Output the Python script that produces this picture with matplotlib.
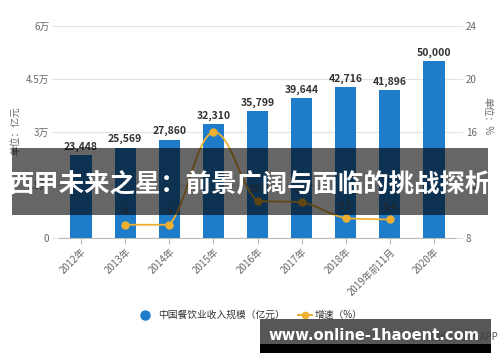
import matplotlib
matplotlib.use('Agg')
import matplotlib.pyplot as plt
from matplotlib.path import Path
from matplotlib.patches import PathPatch, Rectangle
from matplotlib.lines import Line2D

plt.rcParams['font.family'] = ['Noto Sans CJK SC', 'DejaVu Sans']

years = ['2012年', '2013年', '2014年', '2015年', '2016年', '2017年', '2018年', '2019年前11月', '2020年']
revenue = [23448, 25569, 27860, 32310, 35799, 39644, 42716, 41896, 50000]
growth_idx = [1, 2, 3, 4, 5, 6, 7]
growth = [9, 9, 16, 10.8, 10.7, 9.5, 9.4]
growth_labels = ['9', '9', '', '10.8', '10.7', '9.5', '9.4']
left_ticks = [0, 15000, 30000, 45000, 60000]
left_ticklabels = ['0', '1.5万', '3万', '4.5万', '6万']
right_ticks = [8, 12, 16, 20, 24]

bar_color = '#1f7ccb'
line_color = '#eeb031'
grid_color = '#e3e3e3'
text_gray = '#666666'

fig = plt.figure(figsize=(5, 3.62), dpi=100)
ax = fig.add_axes([0.118, 0.3425, 0.794, 0.586])
ax2 = ax.twinx()

x = list(range(len(years)))
ax.bar(x, revenue, width=0.48, color=bar_color, zorder=2)
for xi, v in zip(x, revenue):
    ax.text(xi, v + 900, f'{v:,}', ha='center', va='bottom', fontsize=7.5,
            fontweight='bold', color='#333333', zorder=4)

ax.set_xlim(-0.5, len(years) - 0.5)
ax.set_ylim(0, 60000)
ax.set_yticks(left_ticks)
ax.set_yticklabels(left_ticklabels)
ax.set_xticks(x)
ax.set_xticklabels(years, rotation=45, ha='right', rotation_mode='anchor')
ax.tick_params(axis='x', length=4, color='#bbbbbb', labelsize=7, labelcolor=text_gray, pad=2)
ax.tick_params(axis='y', length=5, color=grid_color, labelsize=7, labelcolor=text_gray, pad=2)
ax.grid(axis='y', color=grid_color, linewidth=0.9, zorder=0)
ax.set_axisbelow(True)
for s in ['top', 'right', 'left']:
    ax.spines[s].set_visible(False)
ax.spines['bottom'].set_color('#bbbbbb')

ax2.set_ylim(8, 24)
ax2.set_yticks(right_ticks)
ax2.tick_params(axis='y', length=5, color=grid_color, labelsize=7, labelcolor=text_gray, pad=2)
for s in ax2.spines.values():
    s.set_visible(False)

# smoothed growth line as bezier path through the points
gx = growth_idx
gy = growth
t = 0.2
verts = [(gx[0], gy[0])]
codes = [Path.MOVETO]
n = len(gx)
for i in range(n - 1):
    p0 = max(i - 1, 0)
    p3 = min(i + 2, n - 1)
    lo, hi = min(gy[i], gy[i + 1]), max(gy[i], gy[i + 1])
    c1 = (gx[i] + (gx[i + 1] - gx[p0]) * t, min(max(gy[i] + (gy[i + 1] - gy[p0]) * t, lo), hi))
    c2 = (gx[i + 1] - (gx[p3] - gx[i]) * t, min(max(gy[i + 1] - (gy[p3] - gy[i]) * t, lo), hi))
    verts += [c1, c2, (gx[i + 1], gy[i + 1])]
    codes += [Path.CURVE4] * 3
ax2.add_patch(PathPatch(Path(verts, codes), facecolor='none', edgecolor=line_color,
                        linewidth=1.3, zorder=3))
ax2.plot(gx, gy, 'o', color=line_color, markersize=5, zorder=4)
for xi, v, lab in zip(gx, gy, growth_labels):
    ax2.text(xi, v + 0.55, lab, ha='center', va='bottom', fontsize=7,
             color='#555555', zorder=4)

ax2.set_zorder(ax.get_zorder() + 1)
ax2.patch.set_visible(False)

# axis unit labels
fig.text(0.03, 0.64, '单位：亿元', rotation=90, ha='center', va='center', fontsize=7, color=text_gray)
fig.text(0.975, 0.68, '单位：%', rotation=270, ha='center', va='center', fontsize=7, color=text_gray)

# legend
ly = 1 - 315 / 362
fig.add_artist(Line2D([145 / 500], [ly], marker='o', color=bar_color, markersize=6.5,
                      linestyle='none', transform=fig.transFigure))
fig.text(158 / 500, ly, '中国餐饮业收入规模（亿元）', ha='left', va='center', fontsize=7, color='#333333')
fig.add_artist(Line2D([298 / 500, 312 / 500], [ly, ly], color=line_color, linewidth=1.5,
                      transform=fig.transFigure))
fig.add_artist(Line2D([305 / 500], [ly], marker='o', color=line_color, markersize=4.5,
                      linestyle='none', transform=fig.transFigure))
fig.text(315 / 500, ly, '增速（%）', ha='left', va='center', fontsize=7, color='#333333')

# source text partly hidden
fig.text(498 / 500, 1 - 337 / 362, '© 前瞻经济学人APP', ha='right', va='center', fontsize=7, color='#555555')

# dark title band
fig.add_artist(Rectangle((12 / 500, 1 - 215 / 362), 476 / 500, 67 / 362, transform=fig.transFigure,
                         facecolor='black', alpha=0.6, edgecolor='none', zorder=10))
fig.text(0.5, 1 - 184 / 362, '西甲未来之星：前景广阔与面临的挑战探析', ha='center', va='center',
         fontsize=18.3, fontweight='bold', color='white', zorder=11)

# watermark box
fig.add_artist(Rectangle((260 / 500, 1 - 344 / 362), 231 / 500, 25 / 362, transform=fig.transFigure,
                         facecolor='#3a3a3a', alpha=0.85, edgecolor='none', zorder=10))
fig.add_artist(Rectangle((260 / 500, 1 - 353 / 362), 231 / 500, 9 / 362, transform=fig.transFigure,
                         facecolor='black', edgecolor='none', zorder=10))
fig.text(374 / 500, 1 - 335 / 362, 'www.online-1haoent.com', ha='center', va='center',
         fontsize=10.6, fontweight='bold', color='white', family='DejaVu Sans', zorder=11)

fig.savefig('out.png', dpi=100)
